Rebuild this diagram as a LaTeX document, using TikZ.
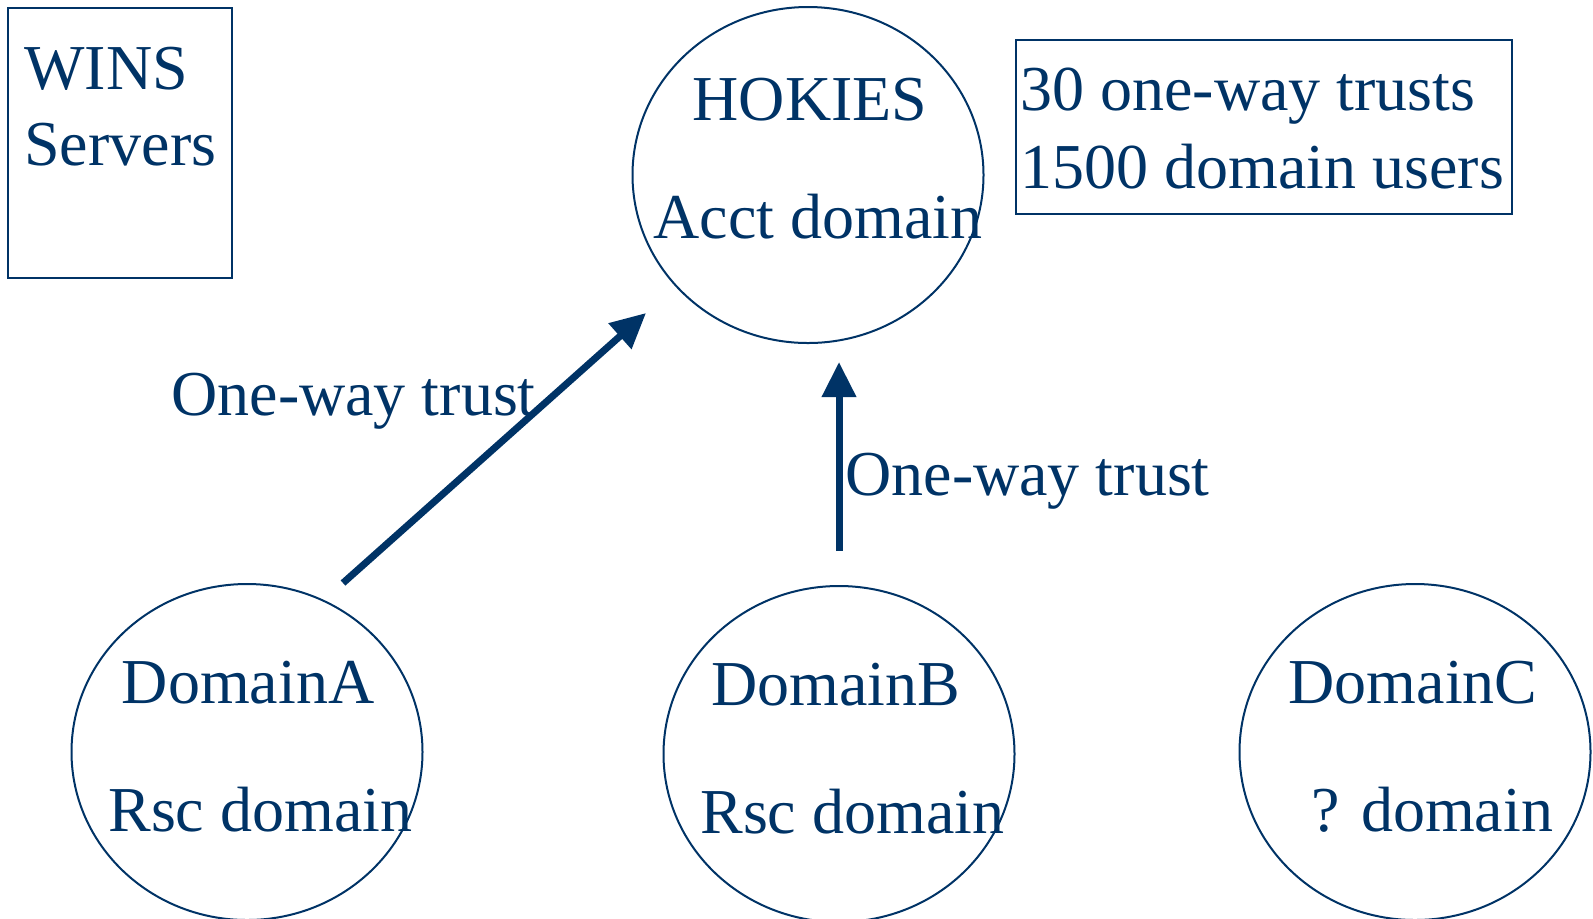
\documentclass[tikz,border=0pt]{standalone}
\usepackage{fontspec}
\setmainfont{Liberation Serif}
\usetikzlibrary{shapes.geometric,arrows.meta}
\definecolor{navy}{HTML}{003366}
\begin{document}
\begin{tikzpicture}[x=0.5pt,y=-0.5pt,
  txt/.style={inner sep=0pt,text=navy,font=\fontsize{32}{38}\selectfont},
  dom/.style={draw=navy,line width=1pt,ellipse,minimum width=175.5pt,minimum height=168pt,inner sep=0pt},
  frame/.style={draw=navy,line width=1pt},
  trust/.style={draw=navy,line width=3.5pt,-{Triangle[length=17.5pt,width=16.5pt]}}]
\useasboundingbox (0,0) rectangle (1593,918);
% WINS box
\draw[frame] (8,8) rectangle (232,278);
\node[txt,anchor=base west] (wins) at (24,89) {WINS};
\node[txt,anchor=base west] (servers) at (24,165) {Servers};
% info box
\draw[frame] (1016,40) rectangle (1512,214);
\node[txt,anchor=base west] (trusts) at (1020,110) {30 one-way trusts};
\node[txt,anchor=base west] (users) at (1020,188) {1500 domain users};
% domains
\node[dom] (hok) at (808,175) {};
\node[txt,anchor=base] (hokt) at (810,120) {HOKIES};
\node[txt,anchor=base west] (hokd) at (653,238) {Acct domain};
\node[dom] (da) at (247,752) {};
\node[txt,anchor=base] (dat) at (248,703) {DomainA};
\node[txt,anchor=base west] (dad) at (108,831) {Rsc domain};
\node[dom] (db) at (839,754) {};
\node[txt,anchor=base] (dbt) at (836,705) {DomainB};
\node[txt,anchor=base west] (dbd) at (700,833) {Rsc domain};
\node[dom] (dc) at (1415,752) {};
\node[txt,anchor=base] (dct) at (1413,703) {DomainC};
\node[txt,anchor=base west] (dcd) at (1311,831) {? domain};
% arrows
\coordinate (a1s) at (343,583);
\coordinate (a1e) at (646,313);
\coordinate (a2s) at (839,551);
\coordinate (a2e) at (839,362);
\draw[trust] (a1s) -- (a1e);
\draw[trust] (a2s) -- (a2e);
\node[txt,anchor=base west] (l1) at (171,415) {One-way trust};
\node[txt,anchor=base west] (l2) at (845,495) {One-way trust};
\end{tikzpicture}
\end{document}
